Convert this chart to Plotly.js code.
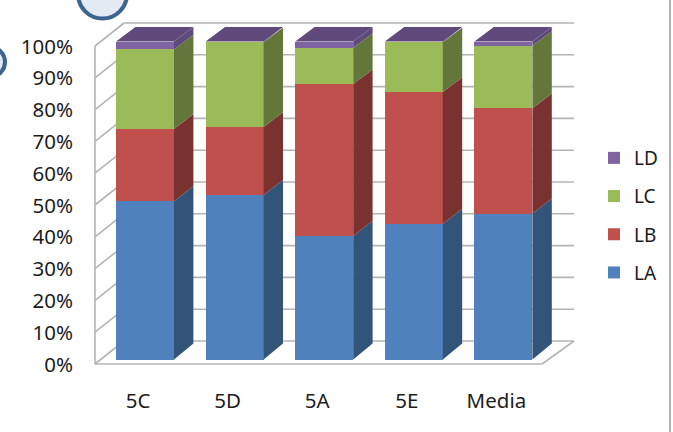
<!DOCTYPE html>
<html><head><meta charset="utf-8">
<script src="https://cdn.plot.ly/plotly-3.0.1.min.js"></script>
<style>html,body{margin:0;padding:0;background:#fff}#c{width:673px;height:432px}</style></head>
<body><div id="c"></div>
<script>
const categories = ["5C","5D","5A","5E","Media"];
const LA = [49.8,51.7,38.8,42.6,45.8];
const LB = [22.7,21.4,47.8,41.5,33.2];
const LC = [25.0,26.7,11.4,15.7,19.7];
const LD = [2.5,0.2,2.0,0.2,1.3];
const percentTicks = [0,10,20,30,40,50,60,70,80,90,100];
const tickLabels = percentTicks.map(v => v + "%");
const seriesNames = ["LA","LB","LC","LD"];
const seriesValues = [LA,LB,LC,LD];
const frontColors = ["#4f81bd","#c0504d","#9bbb59","#8064a2"];
const sideColors = ["#325479","#7a3230","#64773a","#5f4b7b"];
const topColor = "#604a7b";

const W=673,H=432,mL=90,mR=5,mT=18,mB=60;
const catPx=89.6, pctPx=3.18, x0Px=145, y0Px=359.5, barPx=58;
const dxPx=19.4;
const dyPx = v => 16-1.6*v/100;
const xOf = px => (px-x0Px)/catPx;
const yOf = px => (y0Px-px)/pctPx;
const xRange=[xOf(mL),xOf(W-mR)], yRange=[yOf(H-mB),yOf(mT)];
const barW=barPx/catPx, dX=dxPx/catPx, dY=v=>dyPx(v)/pctPx;
const xs=categories.map((_,i)=>i);

const cum=[]; 
seriesValues.forEach((s,k)=>cum.push(s.map((v,i)=>v+(k?cum[k-1][i]:0))));

const traces=[];
seriesValues.forEach((s,k)=>traces.push({
  type:"bar",name:seriesNames[k],x:xs,y:s,width:barW,legendgroup:seriesNames[k],legendrank:seriesNames.length-k,
  marker:{color:frontColors[k],line:{width:0}},hoverinfo:"skip"
}));
seriesValues.forEach((s,k)=>{
  const px=[],py=[];
  xs.forEach(i=>{
    const lo=k?cum[k-1][i]:0, hi=cum[k][i], r=i+barW/2;
    px.push(r,r+dX,r+dX,r,null); py.push(lo,lo+dY(lo),hi+dY(hi),hi,null);
  });
  traces.push({type:"scatter",mode:"lines",x:px,y:py,fill:"toself",fillcolor:sideColors[k],
    line:{width:0,color:sideColors[k]},showlegend:false,hoverinfo:"skip"});
});
{ const px=[],py=[];
  xs.forEach(i=>{const l=i-barW/2,r=i+barW/2,t=cum[3][i],d=dY(t);
    px.push(l,r,r+dX,l+dX,null);py.push(t,t,t+d,t+d,null);});
  traces.push({type:"scatter",mode:"lines",x:px,y:py,fill:"toself",fillcolor:topColor,
    line:{width:0,color:topColor},showlegend:false,hoverinfo:"skip"});
}

const wallL=95, wallBack=124, wallR=574, floorFrontR=542, wallFront0=364, wallBack0=341;
const gridCol="#b4b4b4";
const seg=(x1,y1,x2,y2)=>({type:"line",xref:"x",yref:"y",layer:"below",x0:xOf(x1),x1:xOf(x2),y0:yOf(y1),y1:yOf(y2),line:{color:gridCol,width:1.6}});
const shapes=[];
percentTicks.forEach(v=>{
  const back=wallBack0-v*pctPx, front=wallFront0-v*pctPx;
  shapes.push(seg(wallL,front,wallBack,back));
  shapes.push(seg(wallBack,back,wallR,back));
});
shapes.push(seg(wallL,wallFront0,wallL,wallFront0-100*pctPx));
shapes.push(seg(wallL,wallFront0,floorFrontR,wallFront0));
shapes.push(seg(floorFrontR,wallFront0,wallR,wallBack0));

const pw=W-mL-mR, ph=H-mT-mB;
const pX=px=>(px-mL)/pw, pY=py=>1-(py-mT)/ph;
const circle=(cx,cy,r,fill)=>({type:"circle",xref:"paper",yref:"paper",layer:"above",
  x0:pX(cx-r),x1:pX(cx+r),y0:pY(cy+r),y1:pY(cy-r),fillcolor:fill,line:{color:"#3b6590",width:4}});
shapes.push(circle(102.5,-6,24.5,"#e3eaf4"));
shapes.push(circle(-10,62,15,"#e3eaf4"));
shapes.push({type:"line",xref:"paper",yref:"paper",layer:"above",x0:pX(670),x1:pX(670),y0:pY(0),y1:pY(432),line:{color:"#9a9a9a",width:1.5}});

const font="'Noto Sans',sans-serif";
const tf={family:font,size:20.5,color:"#1c1c1c"};
const layout={
  width:W,height:H,margin:{l:mL,r:mR,t:mT,b:mB,pad:0},paper_bgcolor:"#fff",plot_bgcolor:"rgba(0,0,0,0)",
  barmode:"stack",showlegend:true,
  font:{family:font,size:19,color:"#1c1c1c"},
  xaxis:{type:"linear",range:xRange,tickmode:"array",tickvals:xs,ticktext:categories,showgrid:false,zeroline:false,showline:false,ticks:"",
    ticklabelshift:-7,ticklabelstandoff:14,tickfont:tf},
  yaxis:{range:yRange,tickmode:"array",tickvals:percentTicks,ticktext:tickLabels,showgrid:false,zeroline:false,showline:false,ticks:"",
    ticklabelshift:5,ticklabelstandoff:16,tickfont:tf},
  legend:{x:pX(594),xanchor:"left",y:pY(139),yanchor:"top",traceorder:"grouped",tracegroupgap:10.5,bgcolor:"rgba(0,0,0,0)",font:{family:font,size:19,color:"#1c1c1c"}},
  shapes:shapes
};
Plotly.newPlot("c",traces,layout,{displayModeBar:false,staticPlot:true});
</script></body></html>
